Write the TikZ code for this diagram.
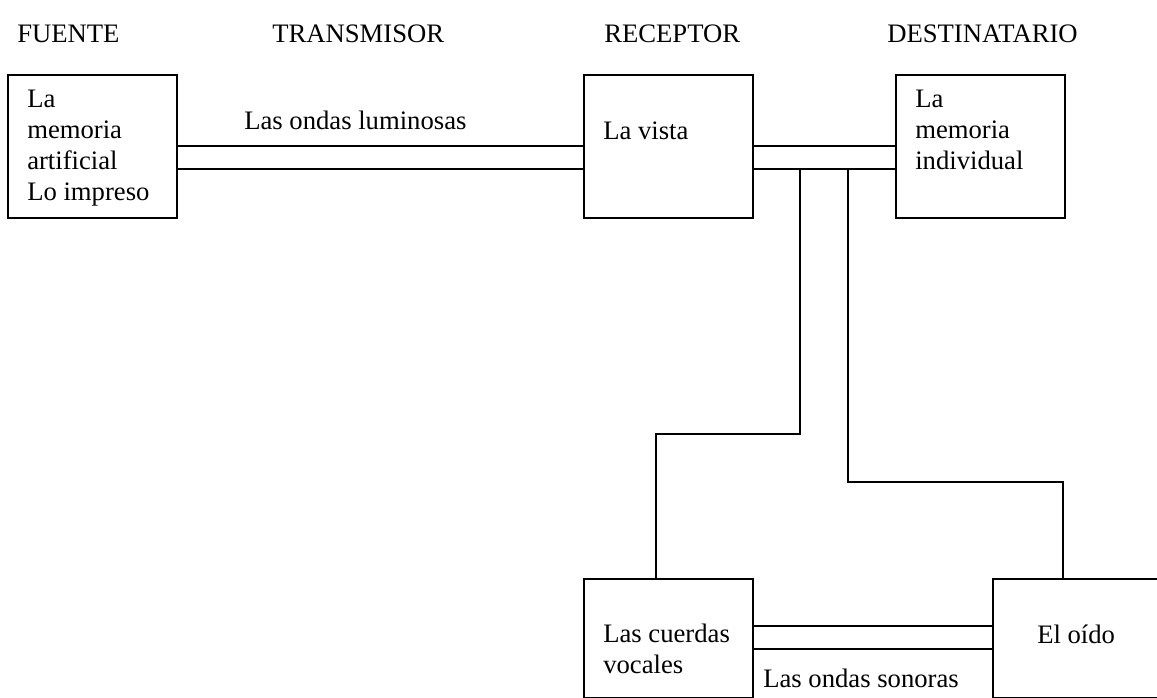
\documentclass[tikz,border=0pt]{standalone}
\usepackage{fontspec}
\setmainfont{Liberation Serif}
\begin{document}
\begin{tikzpicture}[x=0.75pt,y=-0.75pt,
  box/.style={draw,line width=1.4pt,inner sep=0pt,anchor=north west,minimum width=126.75pt},
  tall/.style={minimum height=107.25pt},
  short/.style={minimum height=89.25pt},
  txt/.style={anchor=base west,inner sep=0pt,align=left,font=\fontsize{20}{23.25}\selectfont},
  conn/.style={line width=1.4pt}]
\useasboundingbox (0,0) rectangle (1157,698);
% headers
\node[txt] (h1) at (17,43) {FUENTE};
\node[txt] (h2) at (272,43) {TRANSMISOR};
\node[txt] (h3) at (604,43) {RECEPTOR};
\node[txt] (h4) at (887,43) {DESTINATARIO};
% boxes
\node[box,tall] (b1) at (7,74) {};
\node[box,tall] (b2) at (583,74) {};
\node[box,tall] (b3) at (895,74) {};
\node[box,short] (b4) at (583,578) {};
\node[box,short,minimum width=129.75pt] (b5) at (992,578) {};
% box texts (anchored at the baseline of the last line)
\node[txt] (t1) at (27,201) {La\\memoria\\artificial\\Lo impreso};
\node[txt] (t2) at (603,140) {La vista};
\node[txt] (t3) at (915,170) {La\\memoria\\individual};
\node[txt] (t4) at (603,673) {Las cuerdas\\vocales};
\node[txt] (t5) at (1037,643) {El oído};
\node[txt] (l1) at (244,130) {Las ondas luminosas};
\node[txt] (l2) at (763,687) {Las ondas sonoras};
% helper coordinates
\coordinate (r1) at (0,146);
\coordinate (r2) at (0,169);
\coordinate (s1) at (0,626);
\coordinate (s2) at (0,649);
\coordinate (v1) at (800,169);
\coordinate (k1) at (800,434);
\coordinate (k2) at (656,434);
\coordinate (v2) at (848,169);
\coordinate (k3) at (848,482);
\coordinate (k4) at (1063,482);
% connectors
\draw[conn] (b1.east |- r1) -- (b2.west |- r1);
\draw[conn] (b1.east |- r2) -- (b2.west |- r2);
\draw[conn] (b2.east |- r1) -- (b3.west |- r1);
\draw[conn] (b2.east |- r2) -- (b3.west |- r2);
\draw[conn] (b4.east |- s1) -- (b5.west |- s1);
\draw[conn] (b4.east |- s2) -- (b5.west |- s2);
\draw[conn] (v1) -- (k1) -- (k2) -- (b4.north -| k2);
\draw[conn] (v2) -- (k3) -- (k4) -- (b5.north -| k4);
\end{tikzpicture}
\end{document}
